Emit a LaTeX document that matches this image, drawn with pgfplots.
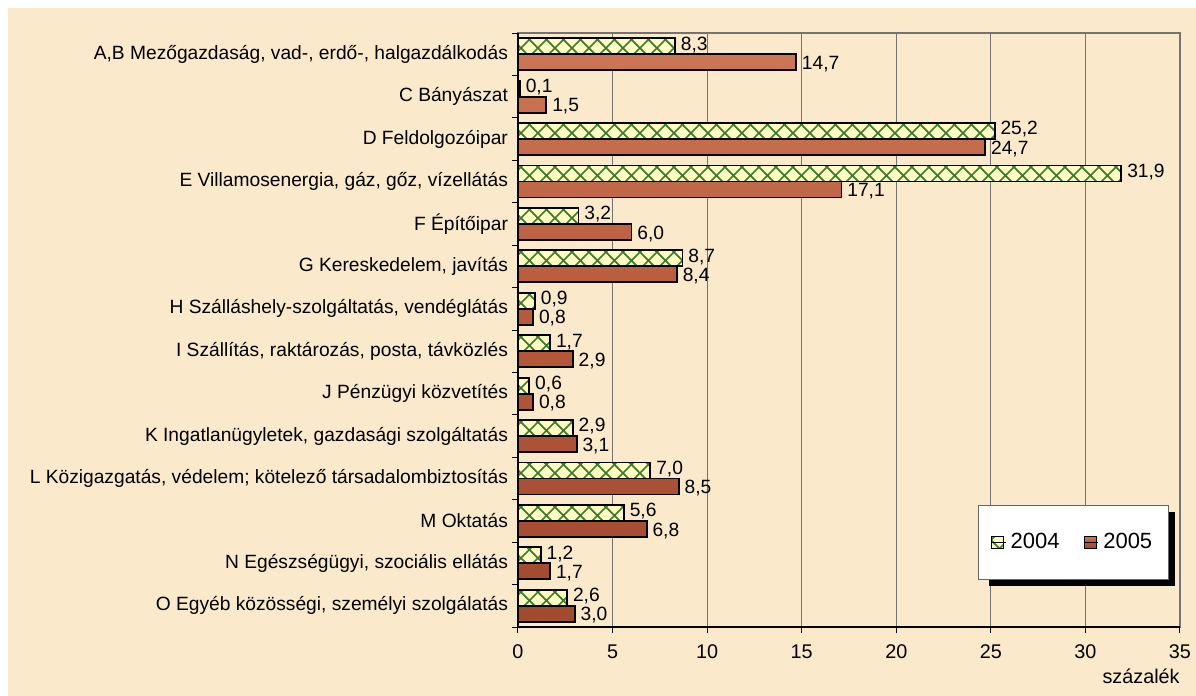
\documentclass[border=0pt]{standalone}
\usepackage{fontspec}
\setmainfont{Liberation Sans}
\usepackage{pgfplots}
\pgfplotsset{compat=1.18}
\usetikzlibrary{patterns}
\definecolor{bgbeige}{HTML}{FAE9CB}
\definecolor{hatchgreen}{HTML}{3E7A2C}
\definecolor{paleyel}{HTML}{FFFFC4}
\definecolor{brownmid}{HTML}{B5573A}
\definecolor{browntop}{HTML}{CC7656}
\definecolor{brownbot}{HTML}{A04a2E}
\pgfdeclarepatterninherentlycolored{mycross}{\pgfpoint{0pt}{0pt}}{\pgfpoint{8.7pt}{8.7pt}}{\pgfpoint{8.7pt}{8.7pt}}{%
  \pgfsetfillcolor{paleyel}%
  \pgfpathrectangle{\pgfpoint{0pt}{0pt}}{\pgfpoint{8.7pt}{8.7pt}}\pgfusepath{fill}%
  \pgfsetstrokecolor{hatchgreen}%
  \pgfsetlinewidth{0.85pt}%
  \pgfpathmoveto{\pgfpoint{0pt}{0pt}}\pgfpathlineto{\pgfpoint{8.7pt}{8.7pt}}%
  \pgfpathmoveto{\pgfpoint{0pt}{8.7pt}}\pgfpathlineto{\pgfpoint{8.7pt}{0pt}}%
  \pgfusepath{stroke}}
\pgfplotsset{
  hatchbar/.style={draw=black, line width=0.9pt, pattern=mycross},
  brownbar/.style={draw=black, line width=0.9pt, top color=browntop, bottom color=brownbot, middle color=brownmid},
}
\begin{document}
\begin{tikzpicture}
\path[use as bounding box] (0,0) rectangle (598pt,-348pt);
\fill[bgbeige] (4pt,-4pt) rectangle (598pt,-348pt);
\begin{axis}[
  at={(259pt,-313.5pt)}, anchor=south west,
  scale only axis, width=331pt, height=297pt,
  xbar, bar width=8pt,
  xmin=0, xmax=35, ymin=-0.5, ymax=13.5, y dir=reverse,
  xtick={0,5,...,35},
  ytick={-0.5,0.5,...,13.5}, yticklabels={},
  extra y ticks={0,...,13},
  extra y tick labels={{A,B Mezőgazdaság, vad-, erdő-, halgazdálkodás},{C Bányászat},{D Feldolgozóipar},{E Villamosenergia, gáz, gőz, vízellátás},{F Építőipar},{G Kereskedelem, javítás},{H Szálláshely-szolgáltatás, vendéglátás},{I Szállítás, raktározás, posta, távközlés},{J Pénzügyi közvetítés},{K Ingatlanügyletek, gazdasági szolgáltatás},{L Közigazgatás, védelem; kötelező társadalombiztosítás},{M Oktatás},{N Egészségügyi, szociális ellátás},{O Egyéb közösségi, személyi szolgálatás}},
  extra y tick style={major tick length=0pt, grid=none},
  tick align=outside, xtick pos=bottom, ytick pos=left,
  major tick length=3pt,
  xmajorgrids, major x grid style={color=gray!90!black, line width=0.5pt},
  axis line style={color=gray!90!black, line width=0.8pt},
  tick style={black, line width=0.5pt},
  xticklabel style={font=\fontsize{9.9}{11}\selectfont, yshift=-2.5pt},
  yticklabel style={font=\fontsize{9.6}{11}\selectfont, xshift=-1.5pt},
  /pgf/number format/assume math mode=true,
  clip=false,
  point meta=x,
  nodes near coords={\pgfmathprintnumber[fixed,fixed zerofill,precision=1,use comma,assume math mode=true]{\pgfplotspointmeta}},
  nodes near coords style={font=\fontsize{9.6}{11}\selectfont, black, inner xsep=2.5pt, inner ysep=0pt},
  legend columns=2,
  legend style={at={(0.983,0.079)}, anchor=south east, draw=gray!80!black, fill=white,
    line width=0.5pt,
    font=\fontsize{11}{12}\selectfont, inner xsep=6pt, inner ysep=12pt,
    /tikz/every even column/.append style={column sep=10pt}},
  legend image code/.code={\draw[#1, line width=0.8pt] (0pt,-3pt) rectangle (6pt,3pt); \path (0pt,0pt) -- (7pt,0pt);},
]
\fill[black] ([shift={(-90pt,-3pt)}]axis description cs:0.983,0.079) rectangle ([shift={(3pt,34pt)}]axis description cs:0.983,0.079);
\addplot[hatchbar, bar shift=4pt, every node near coord/.append style={yshift=0.8pt}] coordinates {
(8.3,0) (0.1,1) (25.2,2) (31.9,3) (3.2,4) (8.7,5) (0.9,6) (1.7,7) (0.6,8) (2.9,9) (7.0,10) (5.6,11) (1.2,12) (2.6,13)};
\addplot[brownbar, bar shift=-4pt, every node near coord/.append style={yshift=-0.8pt}] coordinates {
(14.7,0) (1.5,1) (24.7,2) (17.1,3) (6.0,4) (8.4,5) (0.8,6) (2.9,7) (0.8,8) (3.1,9) (8.5,10) (6.8,11) (1.7,12) (3.0,13)};
\legend{2004,2005}
\draw[black, line width=0.8pt] (axis cs:0,-0.5) -- (axis cs:0,13.5) -- (axis cs:35,13.5);
\node[anchor=north east, font=\fontsize{9.9}{11}\selectfont, inner sep=0pt] at (axis cs:35,13.5) [yshift=-21pt] {százalék};
\end{axis}
\end{tikzpicture}
\end{document}
